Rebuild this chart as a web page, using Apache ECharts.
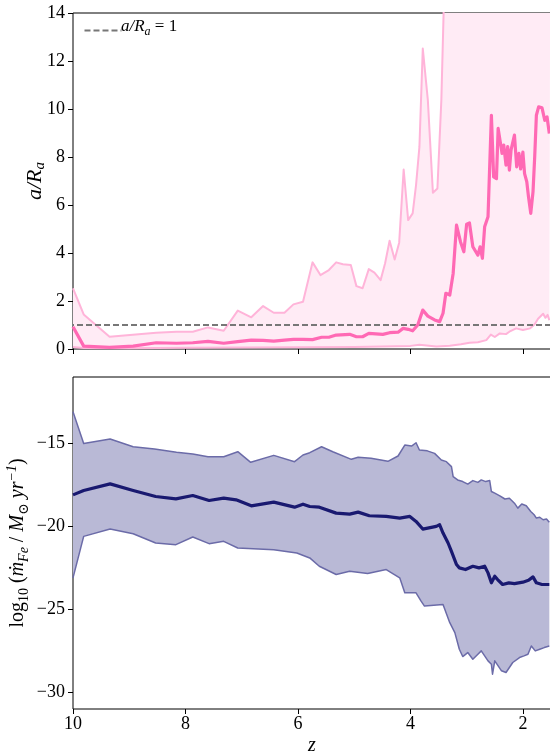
<!DOCTYPE html>
<html>
<head>
<meta charset="utf-8">
<script src="https://cdn.jsdelivr.net/npm/echarts@6/dist/echarts.min.js"></script>
<style>
  html, body { margin: 0; padding: 0; background: #fff; }
  #chart { width: 550px; height: 753px; }
</style>
</head>
<body>
<div id="chart"></div>
<script>
// ---- a / R_a (upper panel) ----
const zAUpper = [10, 9.81, 9.35, 8.52, 8.16, 7.87, 7.6, 7.32, 7.07, 6.83, 6.62, 6.43, 6.24, 6.08, 5.91, 5.74, 5.60, 5.45, 5.32, 5.20, 5.06, 4.96, 4.85, 4.74, 4.64, 4.53, 4.45, 4.37, 4.28, 4.20, 4.12, 4.04, 3.96, 3.90, 3.84, 3.78, 3.69, 3.60, 3.52, 3.45, 3.41, 3.38, 3.0, 2.5, 2.0, 1.5];
const aUpper  = [2.53, 1.44, 0.51, 0.68, 0.72, 0.72, 0.90, 0.76, 1.60, 1.32, 1.79, 1.51, 1.51, 1.86, 1.97, 3.61, 3.08, 3.29, 3.61, 3.53, 3.50, 2.62, 2.53, 3.33, 3.18, 2.87, 3.57, 4.51, 3.73, 4.43, 7.48, 5.37, 5.65, 6.83, 8.42, 12.52, 10.37, 6.51, 6.69, 10.37, 13.98, 16.5, 22, 25, 28, 30];

const zAMedian = [10, 9.81, 9.35, 8.93, 8.52, 8.16, 7.87, 7.6, 7.32, 7.07, 6.83, 6.62, 6.43, 6.24, 6.08, 5.91, 5.74, 5.58, 5.45, 5.32, 5.08, 4.96, 4.85, 4.74, 4.49, 4.37, 4.22, 4.13, 4.04, 3.96, 3.87, 3.78, 3.69, 3.57, 3.48, 3.42, 3.37, 3.30, 3.24, 3.18, 3.11, 3.05, 3.00, 2.95, 2.89, 2.86, 2.80, 2.76, 2.72, 2.68, 2.62, 2.56, 2.52, 2.47, 2.44, 2.41, 2.37, 2.34, 2.30, 2.27, 2.24, 2.21, 2.15, 2.11, 2.07, 2.04, 2.00, 1.97, 1.93, 1.90, 1.86, 1.82, 1.79, 1.76, 1.72, 1.66, 1.61, 1.57, 1.53];
const aMedian  = [0.93, 0.12, 0.07, 0.12, 0.26, 0.24, 0.26, 0.32, 0.24, 0.31, 0.37, 0.36, 0.33, 0.37, 0.40, 0.40, 0.39, 0.49, 0.49, 0.58, 0.61, 0.51, 0.51, 0.65, 0.61, 0.68, 0.70, 0.86, 0.82, 0.76, 1.00, 1.62, 1.37, 1.21, 1.14, 1.49, 2.32, 2.25, 3.15, 5.16, 4.47, 4.05, 5.20, 5.25, 4.26, 4.33, 3.91, 4.26, 3.78, 5.09, 5.51, 9.74, 7.17, 7.10, 9.19, 9.25, 8.15, 8.50, 7.66, 8.43, 7.45, 8.30, 8.91, 7.59, 8.15, 7.50, 8.20, 7.31, 6.96, 6.34, 5.65, 6.55, 8.00, 9.74, 10.09, 10.05, 9.53, 9.67, 8.98];

const zALower = [10, 9.81, 9.0, 8.0, 7.0, 6.0, 5.0, 4.5, 4.0, 3.84, 3.54, 3.3, 3.1, 2.95, 2.8, 2.65, 2.57, 2.5, 2.41, 2.3, 2.24, 2.12, 2.0, 1.87, 1.79, 1.73, 1.64, 1.6, 1.56, 1.53];
const aLower  = [0.08, 0.04, 0.03, 0.05, 0.06, 0.07, 0.08, 0.10, 0.13, 0.18, 0.10, 0.14, 0.20, 0.26, 0.28, 0.37, 0.60, 0.50, 0.65, 0.62, 0.72, 0.86, 0.79, 0.86, 1.03, 1.26, 1.47, 1.30, 1.42, 1.20];

const aRef = 1;

// ---- log10 iron accretion rate (lower panel) ----
const zFeUpper = [10, 9.81, 9.34, 8.93, 8.55, 8.16, 7.87, 7.6, 7.32, 7.07, 6.84, 6.43, 6.06, 5.91, 5.79, 5.58, 5.38, 5.05, 4.93, 4.70, 4.40, 4.22, 4.10, 3.98, 3.90, 3.84, 3.70, 3.57, 3.45, 3.36, 3.27, 3.24, 3.16, 3.07, 2.98, 2.89, 2.80, 2.74, 2.66, 2.59, 2.56, 2.50, 2.41, 2.32, 2.24, 2.15, 2.09, 2.02, 1.94, 1.86, 1.80, 1.76, 1.70, 1.64, 1.58, 1.53];
const feUpper  = [-13.1, -15.0, -14.74, -15.2, -15.34, -15.54, -15.64, -15.8, -15.8, -15.5, -16.14, -15.72, -16.1, -15.7, -15.56, -15.2, -15.5, -15.96, -15.84, -15.9, -16.08, -15.76, -15.1, -15.16, -14.96, -15.4, -15.45, -15.6, -16.0, -16.1, -16.4, -17.0, -17.2, -17.3, -17.45, -17.24, -17.35, -17.2, -17.3, -17.24, -17.9, -18.0, -18.16, -18.35, -18.3, -18.6, -18.9, -18.65, -18.76, -19.1, -19.3, -19.5, -19.45, -19.6, -19.55, -19.75];

const zFeMedian = [10, 9.81, 9.34, 8.93, 8.53, 8.17, 7.87, 7.58, 7.32, 7.10, 6.83, 6.43, 6.06, 5.91, 5.79, 5.62, 5.32, 5.08, 4.93, 4.73, 4.43, 4.19, 4.01, 3.90, 3.78, 3.54, 3.48, 3.42, 3.33, 3.27, 3.18, 3.13, 3.02, 2.89, 2.78, 2.68, 2.62, 2.56, 2.50, 2.45, 2.36, 2.25, 2.15, 2.00, 1.90, 1.82, 1.76, 1.66, 1.53];
const feMedian  = [-18.1, -17.84, -17.44, -17.84, -18.2, -18.34, -18.14, -18.44, -18.3, -18.4, -18.76, -18.54, -18.84, -18.66, -18.8, -18.84, -19.2, -19.26, -19.14, -19.36, -19.4, -19.5, -19.4, -19.7, -20.16, -20.0, -19.9, -20.4, -21.0, -21.5, -22.3, -22.5, -22.6, -22.4, -22.5, -22.4, -22.8, -23.4, -23.0, -23.2, -23.5, -23.4, -23.45, -23.36, -23.25, -23.04, -23.4, -23.5, -23.5];

const zFeLower = [10, 9.81, 9.34, 8.93, 8.53, 8.17, 7.87, 7.58, 7.32, 7.07, 6.43, 6.02, 5.79, 5.62, 5.32, 5.08, 4.76, 4.43, 4.19, 4.10, 3.90, 3.81, 3.75, 3.42, 3.30, 3.21, 3.13, 3.07, 2.98, 2.89, 2.80, 2.74, 2.62, 2.56, 2.54, 2.50, 2.44, 2.38, 2.30, 2.18, 2.06, 1.98, 1.91, 1.85, 1.78, 1.70, 1.62, 1.53];
const feLower  = [-23.1, -20.6, -20.16, -20.44, -21.0, -21.1, -20.64, -21.04, -20.9, -21.3, -21.4, -21.6, -21.9, -22.4, -22.9, -22.7, -22.84, -22.6, -23.1, -24.0, -24.0, -24.5, -24.8, -24.7, -25.8, -26.4, -27.4, -27.84, -27.6, -28.0, -27.7, -27.5, -28.1, -28.3, -28.9, -28.1, -28.4, -28.7, -28.8, -28.2, -27.9, -27.8, -27.7, -27.2, -27.5, -27.4, -27.3, -27.2];

// ---- ticks ----
const zTicks = [2, 4, 6, 8, 10];
const aTicksInterval = 2;
const feTicks = [-30, -25, -20, -15];

const SERIF = '"Liberation Serif", "DejaVu Serif", serif';
const PINK = '#ff69b4';
const PINK_LIGHT = '#ffb4d9';
const PINK_FILL = '#ffebf5';
const NAVY = '#191970';
const NAVY_EDGE = '#6b6ba8';
const NAVY_FILL = '#b9b9d6';

const zip = (xs, ys) => xs.map((x, i) => [x, ys[i]]);
const minus = v => String(v).replace('-', '\u2212');

// shaded envelope between an upper and a lower curve
function band(axisIdx, zU, vU, zL, vL, fill) {
  return {
    type: 'custom',
    xAxisIndex: axisIdx,
    yAxisIndex: axisIdx,
    clip: true,
    silent: true,
    z: 1,
    data: [[5, 0]],
    renderItem: (params, api) => {
      const pts = [];
      for (let i = 0; i < zU.length; i++) pts.push(api.coord([zU[i], vU[i]]));
      for (let i = zL.length - 1; i >= 0; i--) pts.push(api.coord([zL[i], vL[i]]));
      return { type: 'polygon', shape: { points: pts }, style: { fill: fill } };
    }
  };
}

function line(axisIdx, zs, vs, color, width, z) {
  return {
    type: 'line',
    xAxisIndex: axisIdx,
    yAxisIndex: axisIdx,
    data: zip(zs, vs),
    symbol: 'none',
    showSymbol: false,
    silent: true,
    animation: false,
    lineStyle: { color: color, width: width, join: 'round' },
    z: z
  };
}

const tick = { show: true, inside: false, length: 5, lineStyle: { color: '#000', width: 1 } };
const labelStyle = { color: '#000', fontFamily: SERIF, fontSize: 18 };

const chart = echarts.init(document.getElementById('chart'), null, { renderer: 'canvas' });

const lowerLine = line(0, zALower, aLower, PINK_LIGHT, 2, 3);
lowerLine.markLine = {
  silent: true,
  symbol: 'none',
  label: { show: false },
  lineStyle: { color: '#777', width: 1.8, type: [6, 3] },
  data: [{ yAxis: aRef }]
};

chart.setOption({
  animation: false,
  backgroundColor: '#fff',
  grid: [
    { left: 73, top: 13, width: 478, height: 336, outerBoundsMode: 'none', containLabel: false, show: true, borderColor: '#000', borderWidth: 1, backgroundColor: 'transparent' },
    { left: 73, top: 377, width: 478, height: 332, outerBoundsMode: 'none', containLabel: false, show: true, borderColor: '#000', borderWidth: 1, backgroundColor: 'transparent' }
  ],
  xAxis: [
    {
      gridIndex: 0, type: 'value', inverse: true, min: 1.5, max: 10,
      axisLine: { show: false },
      axisTick: Object.assign({}, tick, { customValues: zTicks }),
      axisLabel: { show: false, customValues: zTicks },
      splitLine: { show: false }
    },
    {
      gridIndex: 1, type: 'value', inverse: true, min: 1.5, max: 10,
      axisLine: { show: false },
      axisTick: Object.assign({}, tick, { customValues: zTicks }),
      axisLabel: Object.assign({}, labelStyle, { margin: 6, customValues: zTicks }),
      splitLine: { show: false },
      name: 'z', nameLocation: 'middle', nameGap: 27, nameMoveOverlap: false,
      nameTextStyle: { color: '#000', fontFamily: SERIF, fontSize: 20, fontStyle: 'italic' }
    }
  ],
  yAxis: [
    {
      gridIndex: 0, type: 'value', min: 0, max: 14, interval: aTicksInterval,
      axisLine: { show: false },
      axisTick: tick,
      axisLabel: Object.assign({}, labelStyle, { margin: 8 }),
      splitLine: { show: false },
      name: '{i|a/R}{s|a}', nameLocation: 'middle', nameGap: 25, nameMoveOverlap: false,
      nameTextStyle: {
        color: '#000', fontFamily: SERIF,
        rich: {
          i: { fontFamily: SERIF, fontSize: 22, fontStyle: 'italic', lineHeight: 26, color: '#000' },
          s: { fontFamily: SERIF, fontSize: 15, fontStyle: 'italic', lineHeight: 14, verticalAlign: 'bottom', color: '#000' }
        }
      }
    },
    {
      gridIndex: 1, type: 'value', min: -31, max: -11,
      axisLine: { show: false },
      axisTick: Object.assign({}, tick, { customValues: feTicks }),
      axisLabel: Object.assign({}, labelStyle, { margin: 8, customValues: feTicks, formatter: v => minus(v) }),
      splitLine: { show: false },
      name: '{r|log}{s|10}{r| (}{i|ṁ}{s2|Fe}{r| / }{i|M}{s|⊙}{i| yr}{p|\u22121}{r|)}',
      nameLocation: 'middle', nameGap: 42, nameMoveOverlap: false,
      nameTextStyle: {
        color: '#000', fontFamily: SERIF,
        rich: {
          r: { fontFamily: SERIF, fontSize: 20, lineHeight: 26, color: '#000' },
          i: { fontFamily: SERIF, fontSize: 20, fontStyle: 'italic', lineHeight: 26, color: '#000' },
          s: { fontFamily: SERIF, fontSize: 14, lineHeight: 14, verticalAlign: 'bottom', color: '#000' },
          s2: { fontFamily: SERIF, fontSize: 14, fontStyle: 'italic', lineHeight: 14, verticalAlign: 'bottom', color: '#000' },
          p: { fontFamily: SERIF, fontSize: 14, fontStyle: 'italic', lineHeight: 14, verticalAlign: 'top', color: '#000' }
        }
      }
    }
  ],
  graphic: [
    {
      type: 'line', left: 82, top: 28, silent: true, z: 10,
      shape: { x1: 0, y1: 0, x2: 37, y2: 0 },
      style: { stroke: '#777', lineWidth: 1.8, lineDash: [6, 3] }
    },
    {
      type: 'text', left: 121, top: 18, silent: true, z: 10,
      style: {
        text: '{i|a/R}{s|a}{r| = 1}',
        fill: '#000',
        rich: {
          i: { fontFamily: SERIF, fontSize: 17, fontStyle: 'italic', lineHeight: 22, fill: '#000' },
          s: { fontFamily: SERIF, fontSize: 12, fontStyle: 'italic', lineHeight: 12, verticalAlign: 'bottom', fill: '#000' },
          r: { fontFamily: SERIF, fontSize: 17, lineHeight: 22, fill: '#000' }
        }
      }
    }
  ],
  series: [
    band(0, zAUpper, aUpper, zALower, aLower, PINK_FILL),
    line(0, zAUpper, aUpper, PINK_LIGHT, 2, 3),
    lowerLine,
    line(0, zAMedian, aMedian, PINK, 3.2, 5),
    band(1, zFeUpper, feUpper, zFeLower, feLower, NAVY_FILL),
    line(1, zFeUpper, feUpper, NAVY_EDGE, 1.5, 3),
    line(1, zFeLower, feLower, NAVY_EDGE, 1.5, 3),
    line(1, zFeMedian, feMedian, NAVY, 3.2, 5)
  ]
});
</script>
</body>
</html>
